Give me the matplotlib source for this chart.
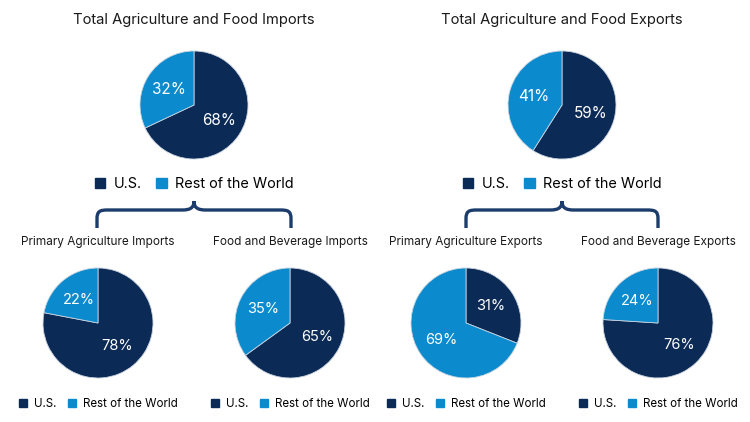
import matplotlib.pyplot as plt
from matplotlib.patches import Patch, PathPatch
from matplotlib.path import Path
from matplotlib.legend import Legend

plt.rcParams['font.family'] = ['Inter', 'DejaVu Sans']

NAVY = '#0b2a56'
BLUE = '#0b8bcd'
BRACE = '#1c3d6b'

series = ['U.S.', 'Rest of the World']
titles = ['Total Agriculture and Food Imports', 'Primary Agriculture Imports',
          'Food and Beverage Imports', 'Total Agriculture and Food Exports',
          'Primary Agriculture Exports', 'Food and Beverage Exports']
us_share = [68, 78, 65, 59, 31, 76]
rest_share = [32, 22, 35, 41, 69, 24]

W, H = 750, 422
fig = plt.figure(figsize=(W / 100, H / 100), dpi=100)
over = fig.add_axes([0, 0, 1, 1])
over.set_xlim(0, W)
over.set_ylim(H, 0)
over.axis('off')

# pixel layout: (center x, center y, radius, title y, legend y, big?)
layout = [(194, 105, 54, 20, 184, True), (98, 323, 55, 242, 404, False),
          (290, 323, 55, 242, 404, False), (562, 105, 54, 20, 184, True),
          (466, 323, 55, 242, 404, False), (658, 323, 55, 242, 404, False)]

for i, (cx, cy, r, ty, ly, big) in enumerate(layout):
    ax = fig.add_axes([(cx - r) / W, (H - cy - r) / H, 2 * r / W, 2 * r / H])
    ax.pie([us_share[i], rest_share[i]], colors=[NAVY, BLUE], startangle=90,
           counterclock=False, autopct=lambda p: '%d%%' % round(p),
           pctdistance=0.55,
           wedgeprops=dict(edgecolor='#c8d3e0', linewidth=0.6),
           textprops=dict(color='white', fontsize=11 if big else 10.5))
    ax.set_xlim(-1, 1)
    ax.set_ylim(-1, 1)
    ax.set_aspect('equal')
    over.text(cx, ty, titles[i], ha='center', va='center',
              fontsize=10.6 if big else 8.5, color='#1a1a1a')
    handles = [Patch(color=NAVY, label=series[0]), Patch(color=BLUE, label=series[1])]
    fs = 10.4 if big else 8.3
    leg = Legend(over, handles, series, ncol=2, frameon=False,
                 loc='center', bbox_to_anchor=(cx / W, 1 - ly / H),
                 bbox_transform=fig.transFigure, fontsize=fs,
                 handlelength=0.75, handleheight=0.75,
                 handletextpad=0.55, columnspacing=1.0, borderpad=0)
    over.add_artist(leg)


def brace(x0, x1, ytop, ybot, tip):
    xm = (x0 + x1) / 2
    verts = [(x0, ybot), (x0, ytop + 9),
             (x0, ytop + 1), (x0 + 3, ytop), (x0 + 11, ytop),
             (xm - 12, ytop),
             (xm - 4, ytop), (xm, ytop - 2), (xm, tip),
             (xm, ytop - 2), (xm + 4, ytop), (xm + 12, ytop),
             (x1 - 11, ytop),
             (x1 - 3, ytop), (x1, ytop + 1), (x1, ytop + 9),
             (x1, ybot)]
    codes = [Path.MOVETO, Path.LINETO,
             Path.CURVE4, Path.CURVE4, Path.CURVE4,
             Path.LINETO,
             Path.CURVE4, Path.CURVE4, Path.CURVE4,
             Path.CURVE4, Path.CURVE4, Path.CURVE4,
             Path.LINETO,
             Path.CURVE4, Path.CURVE4, Path.CURVE4,
             Path.LINETO]
    over.add_patch(PathPatch(Path(verts, codes), fill=False, lw=2.4,
                             edgecolor=BRACE, capstyle='butt'))


brace(97, 291, 210, 228, 201)
brace(466, 658, 210, 228, 201)

fig.savefig('out.png', dpi=100)
